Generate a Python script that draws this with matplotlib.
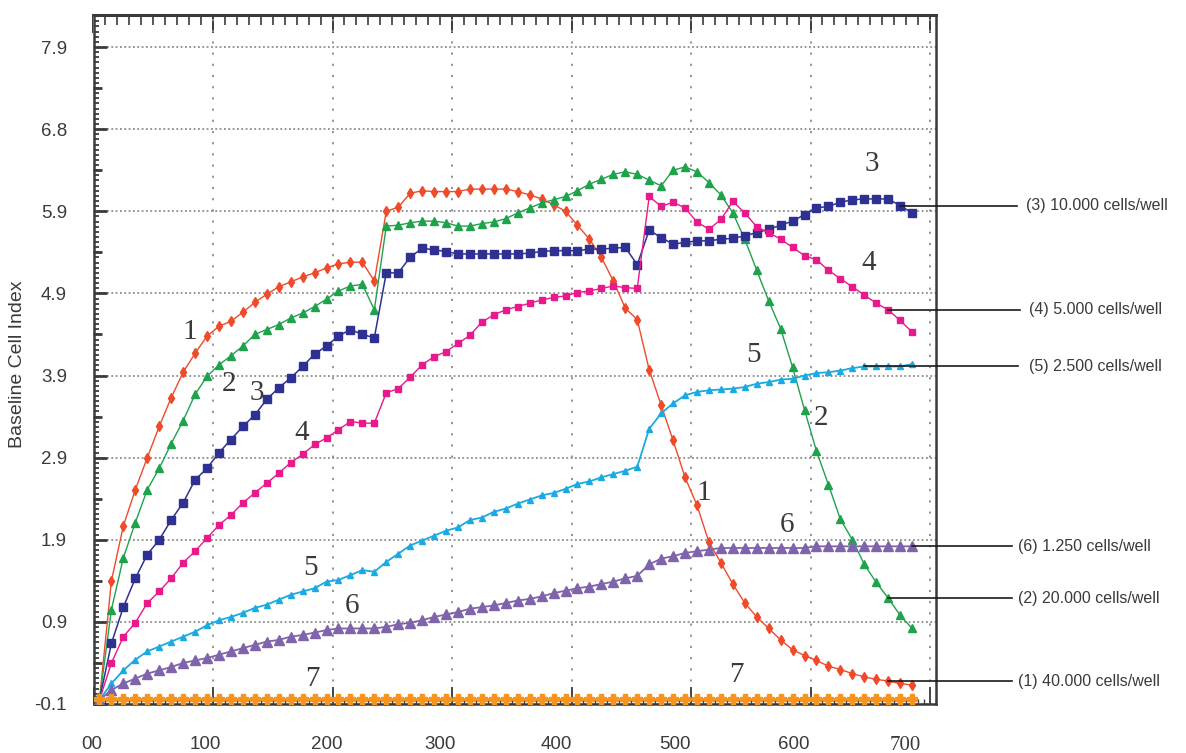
import matplotlib
matplotlib.use("Agg")
import matplotlib.pyplot as plt
import matplotlib.transforms as mtransforms
from matplotlib.ticker import FixedLocator, MultipleLocator
import numpy as np

# ---------------- data ----------------
time_h = np.arange(5, 690, 10)  # sampling times (69 points)

s1_40000 = [-0.05, 1.40, 2.07, 2.51, 2.90, 3.28, 3.63, 3.94, 4.17, 4.38,
            4.50, 4.56, 4.67, 4.79, 4.89, 4.98, 5.04, 5.10, 5.15, 5.21,
            5.26, 5.28, 5.28, 5.05, 5.90, 5.95, 6.12, 6.15, 6.14, 6.14,
            6.14, 6.17, 6.17, 6.17, 6.17, 6.14, 6.10, 6.05, 5.98, 5.90,
            5.73, 5.56, 5.34, 5.05, 4.72, 4.58, 3.97, 3.54, 3.11, 2.66,
            2.32, 1.87, 1.62, 1.36, 1.13, 0.96, 0.82, 0.68, 0.56, 0.49,
            0.43, 0.36, 0.32, 0.27, 0.23, 0.20, 0.18, 0.15, 0.13]

s2_20000 = [-0.05, 1.05, 1.68, 2.11, 2.51, 2.77, 3.07, 3.35, 3.67, 3.89,
            4.03, 4.14, 4.26, 4.40, 4.46, 4.52, 4.60, 4.66, 4.74, 4.83,
            4.93, 4.99, 5.01, 4.70, 5.72, 5.73, 5.76, 5.78, 5.78, 5.76,
            5.72, 5.72, 5.75, 5.77, 5.81, 5.88, 5.94, 6.00, 6.04, 6.08,
            6.15, 6.23, 6.29, 6.35, 6.38, 6.35, 6.28, 6.21, 6.40, 6.44,
            6.38, 6.25, 6.10, 5.88, 5.56, 5.18, 4.81, 4.47, 4.00, 3.48,
            2.98, 2.57, 2.15, 1.90, 1.60, 1.38, 1.19, 0.98, 0.82]

s3_10000 = [-0.05, 0.64, 1.08, 1.43, 1.72, 1.90, 2.14, 2.35, 2.63, 2.77,
            2.96, 3.12, 3.28, 3.42, 3.61, 3.75, 3.87, 4.01, 4.16, 4.26,
            4.38, 4.46, 4.40, 4.36, 5.15, 5.15, 5.34, 5.45, 5.43, 5.41,
            5.38, 5.38, 5.38, 5.38, 5.38, 5.38, 5.39, 5.41, 5.42, 5.42,
            5.42, 5.44, 5.44, 5.45, 5.46, 5.25, 5.67, 5.58, 5.50, 5.52,
            5.54, 5.54, 5.56, 5.57, 5.60, 5.64, 5.68, 5.73, 5.78, 5.86,
            5.94, 5.96, 6.01, 6.04, 6.05, 6.05, 6.05, 5.97, 5.88]

s4_5000 = [-0.05, 0.40, 0.72, 0.89, 1.13, 1.27, 1.43, 1.62, 1.76, 1.92,
           2.08, 2.20, 2.35, 2.47, 2.59, 2.71, 2.84, 2.94, 3.06, 3.14,
           3.24, 3.34, 3.32, 3.32, 3.69, 3.74, 3.88, 4.03, 4.13, 4.19,
           4.29, 4.39, 4.55, 4.64, 4.70, 4.74, 4.78, 4.82, 4.85, 4.87,
           4.91, 4.93, 4.96, 4.99, 4.97, 4.96, 6.08, 5.96, 6.01, 5.94,
           5.77, 5.68, 5.80, 6.02, 5.88, 5.71, 5.64, 5.56, 5.46, 5.36,
           5.31, 5.18, 5.08, 4.98, 4.88, 4.78, 4.70, 4.57, 4.43]

s5_2500 = [-0.05, 0.15, 0.31, 0.44, 0.54, 0.60, 0.66, 0.72, 0.78, 0.86,
           0.92, 0.96, 1.01, 1.07, 1.11, 1.17, 1.23, 1.27, 1.31, 1.39,
           1.41, 1.47, 1.53, 1.51, 1.63, 1.73, 1.83, 1.89, 1.95, 2.01,
           2.05, 2.14, 2.17, 2.24, 2.28, 2.34, 2.39, 2.44, 2.47, 2.52,
           2.58, 2.61, 2.66, 2.70, 2.74, 2.79, 3.25, 3.44, 3.56, 3.66,
           3.70, 3.72, 3.73, 3.74, 3.76, 3.80, 3.82, 3.85, 3.86, 3.90,
           3.93, 3.94, 3.96, 3.99, 4.01, 4.01, 4.01, 4.01, 4.04]

s6_1250 = [-0.05, 0.07, 0.15, 0.21, 0.27, 0.31, 0.35, 0.40, 0.43, 0.46,
           0.50, 0.54, 0.58, 0.62, 0.66, 0.68, 0.72, 0.74, 0.77, 0.80,
           0.82, 0.82, 0.82, 0.82, 0.84, 0.87, 0.89, 0.92, 0.96, 0.99,
           1.02, 1.06, 1.08, 1.10, 1.13, 1.16, 1.18, 1.21, 1.25, 1.28,
           1.31, 1.33, 1.36, 1.39, 1.43, 1.46, 1.60, 1.67, 1.70, 1.74,
           1.76, 1.78, 1.80, 1.80, 1.80, 1.80, 1.80, 1.80, 1.80, 1.80,
           1.82, 1.82, 1.82, 1.82, 1.82, 1.82, 1.82, 1.82, 1.82]

s7_medium = [-0.04, -0.04, -0.04, -0.04, -0.04, -0.04, -0.04, -0.04, -0.04, -0.04,
             -0.04, -0.04, -0.04, -0.04, -0.04, -0.04, -0.04, -0.04, -0.04, -0.04,
             -0.04, -0.04, -0.04, -0.04, -0.04, -0.04, -0.04, -0.04, -0.04, -0.04,
             -0.04, -0.04, -0.04, -0.04, -0.04, -0.04, -0.04, -0.04, -0.04, -0.04,
             -0.04, -0.04, -0.04, -0.04, -0.04, -0.04, -0.04, -0.04, -0.04, -0.04,
             -0.04, -0.04, -0.04, -0.04, -0.04, -0.04, -0.04, -0.04, -0.04, -0.04,
             -0.04, -0.04, -0.04, -0.04, -0.04, -0.04, -0.04, -0.04, -0.04]

x_ticks = [0, 100, 200, 300, 400, 500, 600, 700]
x_tick_labels = ["00", "100", "200", "300", "400", "500", "600", "700"]
y_ticks = [-0.1, 0.9, 1.9, 2.9, 3.9, 4.9, 5.9, 6.9, 7.9]
y_tick_labels = ["-0.1", "0.9", "1.9", "2.9", "3.9", "4.9", "5.9", "6.8", "7.9"]

callout_labels = ["(3) 10.000 cells/well", "(4) 5.000 cells/well", "(5) 2.500 cells/well",
                  "(6) 1.250 cells/well", "(2) 20.000 cells/well", "(1) 40.000 cells/well"]

# ---------------- figure ----------------
W, H = 1186, 753
fig = plt.figure(figsize=(W / 100, H / 100), dpi=100)
fig.patch.set_facecolor("white")
ax = fig.add_axes([93.5 / W, 1 - 704 / H, (936 - 93.5) / W, (704 - 15) / H])
ax.set_xlim(0, 705)
ax.set_ylim(-0.1, 8.29)

frame_c = "#3a3a3a"
text_c = "#3a3a3a"

series = [
    (s1_40000, "#ef4a2a", "d", 5.5, 1.0),
    (s2_20000, "#1ea24c", "^", 5.5, 1.0),
    (s3_10000, "#2e3192", "s", 5.5, 1.1),
    (s4_5000, "#e8198b", "s", 4.8, 1.0),
    (s5_2500, "#1aaae3", "^", 5.0, 1.3),
    (s6_1250, "#8064ab", "^", 6.5, 1.3),
]
for vals, col, mk, ms, lw in series:
    ax.plot(time_h, vals, color=col, lw=lw, marker=mk, ms=ms, mec=col, mfc=col, zorder=3)
# series 7 (medium only)
ax.plot(time_h, s7_medium, color="#f7941d", lw=1.8, marker="P", ms=6.5,
        mec="#f7941d", mfc="#f7941d", zorder=3)

# grid
ax.set_xticks(x_ticks)
ax.set_yticks(y_ticks)
ax.set_yticklabels(y_tick_labels)
ax.xaxis.grid(True, color="#8c8c8c", linestyle=(0, (1.2, 5)), lw=1.3)
ax.yaxis.grid(True, color="#8c8c8c", linestyle=(0, (1.0, 1.4)), lw=1.3)
ax.set_axisbelow(True)

for sp in ax.spines.values():
    sp.set_color(frame_c)
    sp.set_linewidth(1.8)

ax.yaxis.set_minor_locator(FixedLocator(np.arange(-0.1, 8.3, 1 / 16)))
ax.xaxis.set_minor_locator(MultipleLocator(5))
ax.tick_params(axis="y", which="major", direction="in", length=9, width=2.0,
               color=frame_c, pad=19, labelsize=13.5, labelcolor=text_c)
ax.tick_params(axis="y", which="minor", direction="in", length=3.8, width=1.3, color=frame_c)
ax.tick_params(axis="x", which="major", direction="in", length=12, width=1.3,
               color=frame_c, pad=23, labelsize=13.5, labelcolor=text_c, top=False)
ax.tick_params(axis="x", which="minor", direction="in", length=3.5, width=1.0,
               color=frame_c, top=False)

# x tick labels with slight individual offsets as in reference
ax.set_xticklabels(x_tick_labels)
x_label_shift_px = [-2, -8, -6, -12, -15, -16, -17, -25]
for lab, dx in zip(ax.get_xticklabels(), x_label_shift_px):
    lab.set_transform(lab.get_transform() + mtransforms.ScaledTranslation(dx / 100, 0, fig.dpi_scale_trans))
ax.get_xticklabels()[-1].set_fontfamily("Liberation Serif")
ax.get_xticklabels()[-1].set_fontsize(15)
for lab in ax.get_xticklabels() + ax.get_yticklabels():
    if lab.get_text() != "700":
        lab.set_fontfamily("Liberation Sans")

# top ticks
top = ax.secondary_xaxis("top")
top.set_xticks(x_ticks)
top.xaxis.set_minor_locator(MultipleLocator(10))
top.tick_params(which="major", direction="in", length=13, width=1.4, color=frame_c, labeltop=False)
top.tick_params(which="minor", direction="in", length=7, width=1.2, color=frame_c)
top.set_xticklabels([])
top.spines["top"].set_linewidth(2.2)
top.spines["top"].set_color(frame_c)

# medium (half-unit) left ticks
mid = ax.secondary_yaxis("left")
mid.set_yticks([v + 0.5 for v in y_ticks[:-1]])
mid.tick_params(direction="in", length=6.5, width=2.0, color=frame_c, labelleft=False)
mid.spines["left"].set_visible(False)

# y label
fig.text(18 / W, 1 - 364 / H, "Baseline Cell Index", rotation=90, ha="center", va="center",
         fontsize=14, color=text_c, family="Liberation Sans")

# curve numbers
num_labels = [
    ("1", 80.8, 4.43), ("2", 113.4, 3.80), ("3", 136.8, 3.69), ("4", 174.5, 3.20),
    ("5", 182.0, 1.56), ("6", 216.3, 1.09), ("7", 182.8, 0.20),
    ("3", 651.5, 6.47), ("4", 649.0, 5.27), ("5", 552.7, 4.15), ("2", 608.8, 3.38),
    ("1", 510.9, 2.47), ("6", 580.3, 2.08), ("7", 537.6, 0.25),
]
for t, xx, yy in num_labels:
    ax.text(xx, yy, t, fontsize=21, family="Liberation Serif", color="#3a3a3a",
            ha="center", va="center", zorder=4)

# callouts
idx = {"3": 67, "4": 66, "5": 64, "6": 68, "2": 66, "1": 66}
callout_series = [("3", s3_10000), ("4", s4_5000), ("5", s5_2500),
                  ("6", s6_1250), ("2", s2_20000), ("1", s1_40000)]
text_x = [780.5, 783.0, 783.0, 774.0, 774.0, 774.0]
line_end = [772.8, 775.0, 773.5, 768.5, 768.5, 768.5]
for (key, vals), lab, tx, le in zip(callout_series, callout_labels, text_x, line_end):
    i = idx[key]
    yv = vals[i]
    ax.plot([time_h[i], le], [yv, yv], color="#1a1a1a", lw=1.2, clip_on=False, zorder=5)
    ax.text(tx, yv, lab, fontsize=11.5, family="Liberation Sans", color=text_c,
            ha="left", va="center", clip_on=False)

fig.savefig("out.png", dpi=100)
